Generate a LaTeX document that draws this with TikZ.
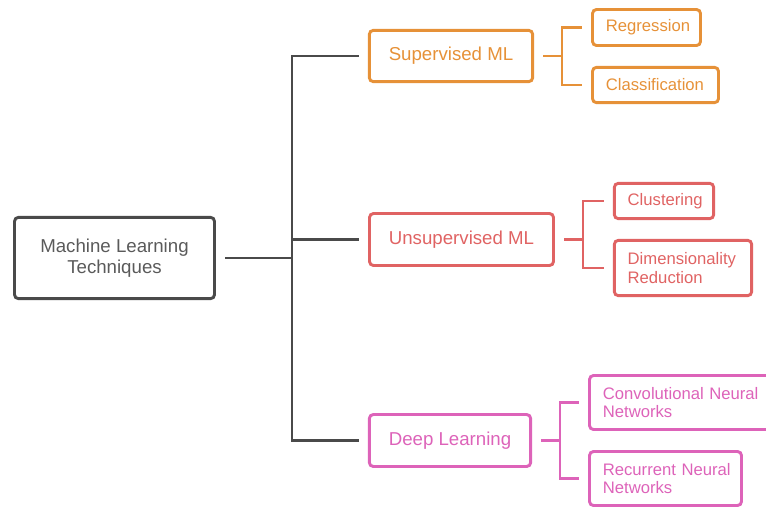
\documentclass[tikz,border=0pt]{standalone}
\usepackage{fontspec}
\setmainfont{Liberation Sans}
\definecolor{rootgray}{HTML}{4A4A4A}
\definecolor{roottext}{HTML}{5A5A5A}
\definecolor{supcol}{HTML}{E69138}
\definecolor{unscol}{HTML}{E06363}
\definecolor{deepcol}{HTML}{DD63B9}
\tikzset{
  box/.style={draw, rounded corners=3pt, line width=2.2pt, inner sep=0pt, align=center},
  mainbox/.style={box, font=\fontsize{14}{16}\selectfont},
  leafbox/.style={box, align=left, inner xsep=10pt, font=\fontsize{12.5}{14.2}\selectfont,
    execute at begin node={\hyphenpenalty=10000\exhyphenpenalty=10000\hfuzz=20pt}},
  conn/.style={line width=2.2pt, shorten <=7pt, shorten >=7pt},
  junc/.style={line width=2.2pt, shorten >=7pt},
}
\begin{document}
\begin{tikzpicture}[x=0.75pt, y=-0.75pt]
\useasboundingbox (0,0) rectangle (766,508);

% root
\node[mainbox, draw=rootgray, text=roottext, minimum width=150pt, minimum height=61pt]
  (root) at (114.5,258) {Machine Learning\\Techniques};

% second level
\node[mainbox, draw=supcol, text=supcol, minimum width=122.5pt, minimum height=38.5pt]
  (sup) at (451,56) {Supervised ML};
\node[mainbox, draw=unscol, text=unscol, minimum width=138pt, minimum height=39pt]
  (uns) at (461.5,239.5) {Unsupervised ML};
\node[mainbox, draw=deepcol, text=deepcol, minimum width=121pt, minimum height=39pt]
  (deep) at (450,440.5) {Deep Learning};

% leaves
\node[leafbox, draw=supcol, text=supcol, text width=61pt, minimum height=27pt]
  (reg) at (646.5,27.5) {Regression};
\node[leafbox, draw=supcol, text=supcol, text width=74.5pt, minimum height=26.5pt]
  (cla) at (655.5,85) {Classification};
\node[leafbox, draw=unscol, text=unscol, text width=54.5pt, minimum height=26.5pt]
  (clu) at (664,201) {Clustering};
\node[leafbox, draw=unscol, text=unscol, text width=83pt, minimum height=41.5pt]
  (dim) at (683,268) {Dimensionality\\Reduction};
\node[leafbox, draw=deepcol, text=deepcol, text width=118pt, minimum height=40.5pt]
  (cnn) at (681.5,402.5) {\mbox{Convolutional Neural}\\Networks};
\node[leafbox, draw=deepcol, text=deepcol, text width=94pt, minimum height=40.5pt]
  (rnn) at (665.5,478.5) {\mbox{Recurrent Neural}\\Networks};

% junction points
\coordinate (trunk) at (292,258);
\coordinate (sj) at (562,56);
\coordinate (uj) at (583,239.5);
\coordinate (dj) at (560,440.5);

% root to second level
\draw[conn, draw=rootgray, shorten >=0pt] (root) -- (trunk);
\draw[junc, draw=rootgray] (trunk) |- (sup);
\draw[junc, draw=rootgray] (trunk) |- (uns);
\draw[junc, draw=rootgray] (trunk) |- (deep);

% second level to leaves
\draw[conn, draw=supcol, shorten >=0pt] (sup) -- (sj);
\draw[junc, draw=supcol] (sj) |- (reg);
\draw[junc, draw=supcol] (sj) |- (cla);

\draw[conn, draw=unscol, shorten >=0pt] (uns) -- (uj);
\draw[junc, draw=unscol] (uj) |- (clu);
\draw[junc, draw=unscol] (uj) |- (dim);

\draw[conn, draw=deepcol, shorten >=0pt] (deep) -- (dj);
\draw[junc, draw=deepcol] (dj) |- (cnn);
\draw[junc, draw=deepcol] (dj) |- (rnn);
\end{tikzpicture}
\end{document}
